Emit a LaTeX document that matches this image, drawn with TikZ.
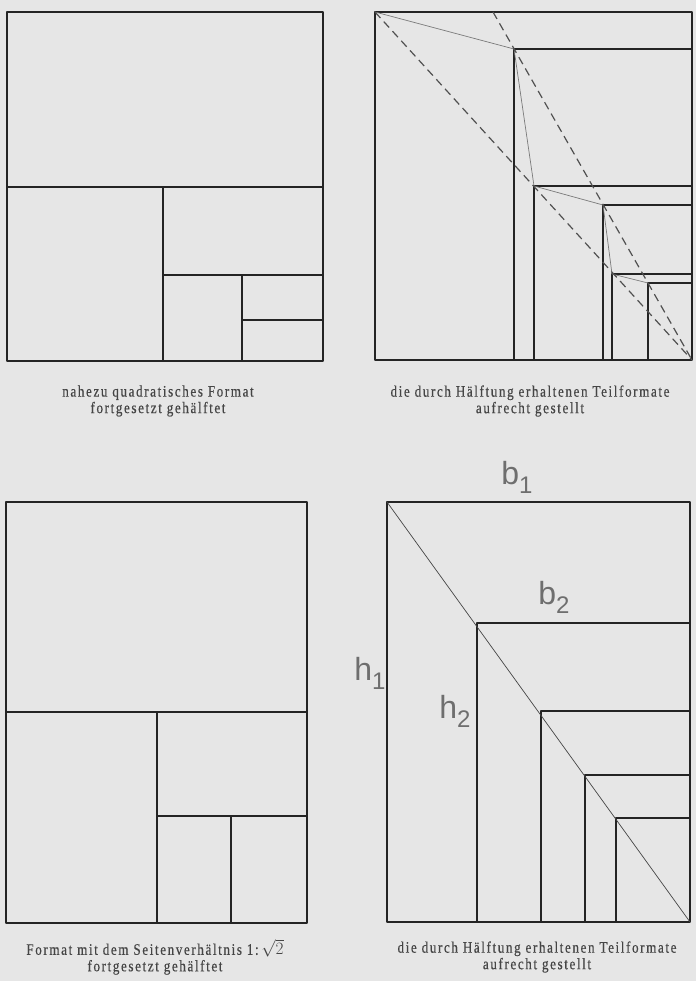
\documentclass[tikz,border=0pt]{standalone}
\usepackage{fontspec}
\usepackage{tikz}
\usetikzlibrary{calc}
\setmainfont{Liberation Serif}
\newfontfamily\capfont{Liberation Serif}[FakeStretch=0.82, LetterSpace=10, FakeBold=0.4]
\newfontfamily\lblfont{Liberation Sans}
\definecolor{paper}{HTML}{E6E6E6}
\definecolor{ink}{HTML}{242424}
\definecolor{pencil}{HTML}{7A7A7A}
\def\sidelabel#1#2{{\lblfont\fontsize{32}{32}\selectfont #1\raisebox{-0.28em}{\fontsize{24}{24}\selectfont #2}}}

\begin{document}
\begin{tikzpicture}[x=1pt,y=-1pt,
  frame/.style={line width=1.8pt, color=ink, line join=round},
  guide/.style={line width=0.7pt, color=pencil},
  dashguide/.style={line width=1.2pt, color=ink!80, dash pattern=on 8pt off 5pt},
  caption/.style={font=\capfont\fontsize{16}{16.5}\selectfont, color=ink!85, align=center},
  letter/.style={color=pencil!90!black, inner sep=0pt}]
  %%%%% START %%%%%
  \fill[paper] (0,0) rectangle (696,981);
  \useasboundingbox (0,0) rectangle (696,981);

  % nahezu quadratisch, fortgesetzt gehaelftet
  \draw[frame] (7,12) rectangle (323,361);
  \draw[frame] (7,187) -- (323,187);
  \draw[frame] (163,187) -- (163,361);
  \draw[frame] (163,275) -- (323,275);
  \draw[frame] (242,275) -- (242,361);
  \draw[frame] (242,320) -- (323,320);

  % Teilformate aufrecht, oben
  \draw[frame] (375,12) rectangle (692,360);
  \foreach \x/\y in {514/49, 534/186, 603/205, 612/274, 648/283}
    \draw[frame] (\x,360) -- (\x,\y) -- (692,\y);
  \draw[guide] (375,12) -- (514,49) -- (534,186) -- (603,205) -- (612,274) -- (648,283);
  \draw[dashguide] (375,12) -- (692,360);
  \draw[dashguide] (493,12) -- (692,360);

  % Seitenverhaeltnis 1:sqrt2
  \draw[frame] (6,502) rectangle (307,923);
  \draw[frame] (6,712) -- (307,712);
  \draw[frame] (157,712) -- (157,923);
  \draw[frame] (157,816) -- (307,816);
  \draw[frame] (231,816) -- (231,923);

  % Teilformate aufrecht, unten
  \draw[frame] (387,502) rectangle (690,922);
  \foreach \x/\y in {477/623, 541/711, 585/775, 616/818}
    \draw[frame] (\x,922) -- (\x,\y) -- (690,\y);
  \draw[guide, color=ink!85] (387,502) -- (690,922);

  \node[letter] (b1) at (517,477) {\sidelabel{b}{1}};
  \node[letter] (b2) at (554,597) {\sidelabel{b}{2}};
  \node[letter] (h1) at (370,673) {\sidelabel{h}{1}};
  \node[letter] (h2) at (455,711) {\sidelabel{h}{2}};

  % captions
  \node[caption] (capA) at (158,401) {nahezu quadratisches Format\\fortgesetzt gehälftet};
  \node[caption] (capB) at (530,401) {die durch Hälftung erhaltenen Teilformate\\aufrecht gestellt};
  \node[caption] (capC) at (155,957) {Format mit dem Seitenverhältnis 1:\,$\sqrt{2}$\\fortgesetzt gehälftet};
  \node[caption] (capD) at (537,957) {die durch Hälftung erhaltenen Teilformate\\aufrecht gestellt};
  %%%%% END %%%%%
\end{tikzpicture}
\end{document}
